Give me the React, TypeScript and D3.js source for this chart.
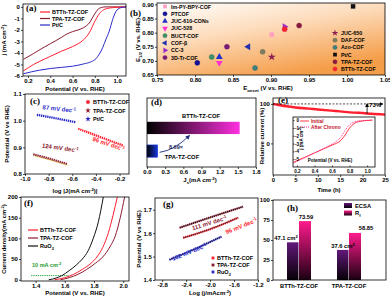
import { useEffect, useRef } from 'react';
import * as d3 from 'd3';

// (a) ORR polarisation curves, [potential V vs RHE, j mA cm-2]
const lsvBTTh = [[0.16, -5.55], [0.25, -5.0], [0.3, -4.75], [0.4, -4.3], [0.5, -3.85], [0.6, -3.45], [0.65, -3.2], [0.7, -2.85], [0.75, -2.25], [0.8, -1.25], [0.84, -0.6], [0.88, -0.25], [0.93, -0.1], [1.0, -0.04], [1.08, 0]];
const lsvTPA = [[0.16, -4.55], [0.25, -4.05], [0.3, -3.75], [0.4, -3.2], [0.5, -2.65], [0.55, -2.35], [0.6, -2.15], [0.65, -2.0], [0.7, -1.8], [0.75, -1.4], [0.8, -0.6], [0.83, -0.2], [0.86, -0.05], [0.9, 0], [1.08, 0]];
const lsvPtC = [[0.16, -5.8], [0.3, -5.5], [0.4, -5.35], [0.5, -5.25], [0.6, -5.15], [0.7, -4.95], [0.77, -4.75], [0.81, -4.5], [0.84, -4.1], [0.87, -3.55], [0.9, -2.8], [0.93, -2.1], [0.96, -1.1], [0.99, -0.4], [1.03, -0.08], [1.08, 0]];
const aXTicks = [0.2, 0.4, 0.6, 0.8, 1.0];
const aYTicks = [0, -1, -2, -3, -4, -5, -6];

// (b) literature comparison: onset vs half-wave potential
const refNames = ['Im-PY-BPY-COF', 'PTCOF', 'JUC-610-CONs', 'JUC-528', 'BUCT-COF', 'COF-β', 'CC-3', '3D-Tr-COF', 'JUC-650', 'DAF-COF', 'Azo-COF', 'Pt/C', 'TPA-TZ-COF', 'BTTh-TZ-COF'];
const refOnset = [0.901, 0.803, 0.832, 0.832, 0.822, 0.870, 0.918, 0.842, 0.901, 0.889, 0.879, 1.008, 0.937, 0.918];
const refHalf = [0.793, 0.693, 0.714, 0.693, 0.714, 0.750, 0.821, 0.750, 0.714, 0.732, 0.675, 0.893, 0.825, 0.812];
const bXTicks = [0.75, 0.80, 0.85, 0.90, 0.95, 1.00, 1.05];
const bYTicks = [0.65, 0.70, 0.75, 0.80, 0.85, 0.90];

// (c) ORR Tafel, [log j, potential]
const tafelPtC = [[-0.9, 1.022], [-0.74, 1.009], [-0.57, 0.994]];
const tafelBTTh = [[-0.55, 0.97], [-0.36, 0.938], [-0.17, 0.907]];
const tafelTPA = [[-0.93, 0.874], [-0.78, 0.856], [-0.64, 0.837]];
const cXTicks = [-1.0, -0.8, -0.6, -0.4, -0.2];
const cYTicks = [0.8, 0.9, 1.0, 1.1];

// (d) kinetic current density
const jsCats = ['BTTh-TZ-COF', 'TPA-TZ-COF'];
const jsValues = [1.53, 0.176];
const dXTicks = [0, 0.3, 0.6, 0.9, 1.2, 1.5, 1.8];

// (e) chronoamperometry + inset LSV
const stabTime = [0, 1, 3, 5, 8, 10, 13, 15, 18, 20, 22, 25];
const stabCurrent = [100, 98, 94, 91, 88, 86, 83, 81, 78, 77, 75, 73];
const chronoInitial = [[0.16, -5.4], [0.3, -4.7], [0.4, -4.2], [0.5, -3.7], [0.6, -3.2], [0.7, -2.6], [0.75, -1.9], [0.8, -1.0], [0.85, -0.45], [0.9, -0.2], [1.0, -0.05], [1.06, 0]];
const chronoAfter = [[0.16, -5.5], [0.3, -4.75], [0.4, -4.2], [0.5, -3.65], [0.6, -3.05], [0.65, -2.7], [0.7, -2.2], [0.75, -1.3], [0.8, -0.6], [0.85, -0.25], [0.9, -0.1], [1.06, 0]];
const eXTicks = [0, 5, 10, 15, 20, 25];
const eYTicks = [0, 100];
const insetXTicks = [0.2, 0.4, 0.6, 0.8, 1.0];
const insetYTicks = [0, -1, -2, -3, -4, -5];

// (f) OER polarisation, [potential, current density]
const oerBTTh = [[1.53, 0], [1.6, 5], [1.66, 13], [1.72, 25], [1.78, 40], [1.82, 55], [1.86, 78], [1.9, 115], [1.93, 155], [1.96, 200]];
const oerTPA = [[1.57, 0], [1.63, 5], [1.69, 13], [1.75, 25], [1.81, 40], [1.86, 55], [1.91, 80], [1.945, 105], [1.98, 150], [2.01, 200]];
const oerRuO2 = [[1.49, 0], [1.54, 4], [1.58, 10], [1.63, 22], [1.68, 36], [1.72, 50], [1.76, 70], [1.795, 100], [1.83, 140], [1.864, 200]];
const fXTicks = [1.4, 1.6, 1.8, 2.0];
const fYTicks = [0, 50, 100, 150, 200];

// (g) OER Tafel
const oerTafelBTTh = [[-2.45, 1.58], [-2.0, 1.617], [-1.53, 1.666]];
const oerTafelTPA = [[-2.51, 1.623], [-2.0, 1.667], [-1.45, 1.713]];
const oerTafelRuO2 = [[-2.68, 1.486], [-2.25, 1.533], [-1.81, 1.585]];
const gXTicks = [-2.8, -2.4, -2.0, -1.6, -1.2];
const gYTicks = [1.4, 1.5, 1.6, 1.7];

// (h) ECSA and roughness factor
const ecsaCats = ['BTTh-TZ-COF', 'TPA-TZ-COF'];
const ecsaValues = [47.1, 37.6];
const rfValues = [73.59, 58.85];
const hYTicks = [0, 25, 50, 75, 100];

const SANS = '"Liberation Sans", Arial, sans-serif';
const SERIF = '"Liberation Serif", "Times New Roman", serif';
const RED = '#ff1f2e';
const MAROON = '#8c1c30';
const BLUE = '#2a2ac8';

const refColors = ['#ff9ec4', '#10109a', '#2030c8', '#ff30d0', '#3d8f6a', '#2030b0', '#9a30c8', '#7a1a7a', '#8b2050', '#7d7d60', '#3f7f80', '#111111', '#8a1a40', '#ff2030'];
const refShapes = ['square', 'circle', 'up', 'down', 'circle', 'left', 'right', 'circle', 'star', 'circle', 'circle', 'square', 'circle', 'circle'];

const minus = (s) => s.replace('−', '-');
const f1 = (d) => minus(d3.format('.1f')(d));
const f2 = (d) => minus(d3.format('.2f')(d));
const f0 = (d) => minus(d3.format('d')(d));

function axis(g, orient, scale, at, ticks, fmt, size = 6) {
    const gen = (orient === 'bottom' ? d3.axisBottom(scale) : d3.axisLeft(scale))
        .tickValues(ticks).tickFormat(fmt).tickSize(2).tickPadding(1.2);
    const a = g.append('g')
        .attr('transform', orient === 'bottom' ? `translate(0,${at})` : `translate(${at},0)`)
        .call(gen);
    a.attr('font-size', null).attr('font-family', null);
    a.select('.domain').remove();
    a.selectAll('line').attr('stroke', '#000').attr('stroke-width', 0.7);
    a.selectAll('text').attr('fill', '#000').style('font', `bold ${size}px ${SANS}`);
    return a;
}

function frame(g, x0, x1, y0, y1) {
    g.append('rect')
        .attr('x', x0).attr('y', y0)
        .attr('width', x1 - x0).attr('height', y1 - y0)
        .attr('fill', 'none').attr('stroke', '#000').attr('stroke-width', 0.8);
}

// text with sub/superscript parts: [[text, 'sup'|'sub'|undefined], ...]
function rich(g, x, y, segs, o: any = {}) {
    const size = o.size ?? 6;
    const t = g.append('text')
        .attr('x', x).attr('y', y)
        .attr('text-anchor', o.anchor ?? 'middle')
        .attr('fill', o.fill ?? '#000')
        .style('font', `${o.weight ?? 'bold'} ${size}px ${o.family ?? SANS}`);
    if (o.rotate) t.attr('transform', `rotate(${o.rotate},${x},${y})`);
    let shift = 0;
    const parts = typeof segs === 'string' ? [[segs]] : segs;
    parts.forEach(([s, k]) => {
        const target = k === 'sup' ? -size * 0.38 : k === 'sub' ? size * 0.28 : 0;
        const ts = t.append('tspan').attr('dy', target - shift).text(s);
        if (k) ts.style('font-size', `${size * 0.72}px`);
        shift = target;
    });
    return t;
}

function panelLabel(g, x, y, s) {
    rich(g, x, y, s, { size: 9, family: SERIF, anchor: 'start' });
}

function marker(g, shape, x, y, color, size = 18) {
    const types = { square: d3.symbolSquare, circle: d3.symbolCircle, up: d3.symbolTriangle, down: d3.symbolTriangle, left: d3.symbolTriangle, right: d3.symbolTriangle, star: d3.symbolStar };
    const rot = { down: 180, left: -90, right: 90 }[shape] ?? 0;
    g.append('path')
        .attr('d', d3.symbol().type(types[shape]).size(size)())
        .attr('transform', `translate(${x},${y}) rotate(${rot})`)
        .attr('fill', color)
        .attr('stroke', shape === 'circle' ? d3.color(color).darker(0.6) : 'none')
        .attr('stroke-width', 0.4);
}

export default function App() {
    const svgRef = useRef(null);

    useEffect(() => {
        const svg = d3.select(svgRef.current);
        svg.selectAll('*').remove();
        const defs = svg.append('defs');

        const grad = (id, stops, x2 = 1, y2 = 0, x1 = 0, y1 = 0) => {
            const lg = defs.append('linearGradient').attr('id', id)
                .attr('x1', x1).attr('y1', y1).attr('x2', x2).attr('y2', y2);
            stops.forEach(([o, c]) => lg.append('stop').attr('offset', o).attr('stop-color', c));
        };
        grad('bgB', [[0, '#ffffff'], [0.45, '#fddcbc'], [1, '#f59e4a']], 0.55, 1);
        grad('barBTTh', [[0, '#000000'], [1, '#ff30e0']]);
        grad('barTPA', [[0, '#000000'], [1, '#1838e0']]);
        grad('barECSA', [[0, '#62187a'], [1, '#050005']], 0, 1);
        grad('barRf', [[0, '#ff1a8c'], [1, '#1a0012']], 0, 1);

        const arrow = (id, color) => defs.append('marker').attr('id', id)
            .attr('viewBox', '0 0 10 10').attr('refX', 8).attr('refY', 5)
            .attr('markerWidth', 5).attr('markerHeight', 5).attr('orient', 'auto')
            .append('path').attr('d', 'M0,0 L10,5 L0,10 z').attr('fill', color);
        arrow('arrK', '#000');
        arrow('arrB', '#1b2a7a');

        // ---------- (a)
        const gA = svg.append('g');
        const ax = d3.scaleLinear().domain([0.155, 1.08]).range([23, 126]);
        const ay = d3.scaleLinear().domain([-6, 0.25]).range([76, 4]);
        const lineA = d3.line().x(d => ax(d[0])).y(d => ay(d[1])).curve(d3.curveMonotoneX);
        [[lsvTPA, MAROON], [lsvBTTh, RED], [lsvPtC, BLUE]].forEach(([d, c]) => {
            gA.append('path').attr('d', lineA(d)).attr('fill', 'none').attr('stroke', c).attr('stroke-width', 1);
        });
        frame(gA, 23, 126, 4, 76);
        axis(gA, 'bottom', ax, 76, aXTicks, f1);
        axis(gA, 'left', ay, 23, aYTicks, f0);
        [['BTTh-TZ-COF', RED], ['TPA-TZ-COF', MAROON], ['Pt/C', BLUE]].forEach(([n, c], i) => {
            const y = 12 + i * 6.5;
            gA.append('line').attr('x1', 40).attr('x2', 50).attr('y1', y).attr('y2', y).attr('stroke', c).attr('stroke-width', 1.2);
            rich(gA, 52, y + 2, n, { anchor: 'start', size: 5.5 });
        });
        rich(gA, 75, 91, 'Potential (V vs. RHE)');
        rich(gA, 6, 40, [['j (mA cm'], ['-2', 'sup'], [')']], { rotate: -90 });
        panelLabel(gA, 26, 11, '(a)');

        // ---------- (b)
        const gB = svg.append('g');
        const bx = d3.scaleLinear().domain([0.75, 1.05]).range([157, 385]);
        const by = d3.scaleLinear().domain([0.65, 0.905]).range([75, 3]);
        gB.append('rect').attr('x', 157).attr('y', 3).attr('width', 228).attr('height', 72).attr('fill', 'url(#bgB)');
        refNames.forEach((n, i) => marker(gB, refShapes[i], bx(refOnset[i]), by(refHalf[i]), refColors[i], 20));
        frame(gB, 157, 385, 3, 75);
        axis(gB, 'bottom', bx, 75, bXTicks, f2);
        axis(gB, 'left', by, 157, bYTicks, f2);
        refNames.forEach((n, i) => {
            const left = i < 8;
            const mx = left ? 165 : 335;
            const my = left ? 6.5 + i * 7.3 : 33 + (i - 8) * 7.2;
            marker(gB, refShapes[i], mx, my, refColors[i], 14);
            rich(gB, mx + 6, my + 2, n, { anchor: 'start', size: 5.3 });
        });
        rich(gB, 268, 90, [['E'], ['onset', 'sub'], [' (V vs. RHE)']]);
        rich(gB, 140, 40, [['E'], ['1/2', 'sub'], [' (V vs. RHE)']], { rotate: -90 });
        panelLabel(gB, 130, 16, '(b)');

        // ---------- (c)
        const gC = svg.append('g');
        const cx = d3.scaleLinear().domain([-1.0, -0.12]).range([25, 129]);
        const cy = d3.scaleLinear().domain([0.8, 1.1]).range([174, 94]);
        const lineC = d3.line().x(d => cx(d[0])).y(d => cy(d[1]));
        gC.append('path').attr('d', lineC(tafelTPA)).attr('fill', 'none').attr('stroke', '#e8d040').attr('stroke-width', 0.8).attr('transform', 'translate(0,1.2)');
        [[tafelTPA, MAROON], [tafelBTTh, RED], [tafelPtC, BLUE]].forEach(([d, c]) => {
            gC.append('path').attr('d', lineC(d)).attr('fill', 'none').attr('stroke', c)
                .attr('stroke-width', 2.2).attr('stroke-dasharray', '1.4,0.7');
        });
        frame(gC, 25, 129, 94, 174);
        axis(gC, 'bottom', cx, 174, cXTicks, f1);
        axis(gC, 'left', cy, 25, cYTicks, f1);
        [['BTTh-TZ-COF', RED, 'circle'], ['TPA-TZ-COF', MAROON, 'star'], ['Pt/C', BLUE, 'star']].forEach(([n, c, s], i) => {
            const y = 102 + i * 8.5;
            marker(gC, s, 88, y, c, 10);
            rich(gC, 93, y + 2, n, { anchor: 'start', size: 5.5 });
        });
        rich(gC, 59, 111, [['87 mV dec'], ['-1', 'sup']], { rotate: 6, fill: BLUE });
        rich(gC, 108, 146, [['96 mV dec'], ['-1', 'sup']], { rotate: 18, fill: RED });
        rich(gC, 60, 150, [['124 mV dec'], ['-1', 'sup']], { rotate: 8, fill: MAROON });
        rich(gC, 75, 193, [['log |J(mA cm'], ['-2', 'sup'], [')|']]);
        rich(gC, 9, 134, 'Potential (V vs RHE)', { rotate: -90 });
        panelLabel(gC, 30, 104, '(c)');

        // ---------- (d)
        const gD = svg.append('g');
        const dx = d3.scaleLinear().domain([0, 1.8]).range([147, 256]);
        const dy = d3.scaleBand().domain(jsCats).range([116, 163]).paddingInner(0.47).paddingOuter(0.25);
        jsCats.forEach((c, i) => {
            gD.append('rect').attr('x', dx(0)).attr('y', dy(c)).attr('width', dx(jsValues[i]) - dx(0)).attr('height', dy.bandwidth())
                .attr('fill', i === 0 ? 'url(#barBTTh)' : 'url(#barTPA)')
                .attr('stroke', i === 0 ? 'none' : '#1838e0').attr('stroke-width', 0.6);
        });
        frame(gD, 147, 256, 98, 167);
        axis(gD, 'bottom', dx, 167, dXTicks, f1);
        rich(gD, 201, dy(jsCats[0]) - 4, jsCats[0], { size: 5.8 });
        rich(gD, 182, dy(jsCats[1]) + dy.bandwidth() + 2, jsCats[1], { size: 5.8 });
        const sx = dx(jsValues[1]) + 2, sy = dy(jsCats[1]) + dy.bandwidth() * 0.6;
        const ex0 = dx(0.7), ey0 = dy(jsCats[0]) + dy.bandwidth() + 1.5;
        gD.append('path').attr('d', `M${sx},${sy} Q${(sx + ex0) / 2},${sy - 2} ${ex0},${ey0}`)
            .attr('fill', 'none').attr('stroke', '#1b2a7a').attr('stroke-width', 0.9).attr('marker-end', 'url(#arrB)');
        rich(gD, 176, 149, `${d3.format('.2f')(jsValues[0] / jsValues[1])}×`, { size: 5.5, fill: '#1b2a5a' });
        rich(gD, 200, 182, [['J'], ['s', 'sub'], ['(mA cm'], ['-2', 'sup'], [')']]);
        panelLabel(gD, 151, 105, '(d)');

        // ---------- (e)
        const gE = svg.append('g');
        const ex = d3.scaleLinear().domain([0, 25]).range([273, 385]);
        const ey = d3.scaleLinear().domain([-80, 115]).range([175, 98]);
        const lineE = d3.line().x((d, i) => ex(stabTime[i])).y(d => ey(d)).curve(d3.curveMonotoneX);
        gE.append('path').attr('d', lineE(stabCurrent)).attr('fill', 'none').attr('stroke', RED).attr('stroke-width', 2.4);
        gE.append('line').attr('x1', ex(0)).attr('x2', ex(24.5)).attr('y1', ey(100)).attr('y2', ey(100))
            .attr('stroke', '#000').attr('stroke-width', 0.7).attr('stroke-dasharray', '2,1.5').attr('marker-end', 'url(#arrK)');
        gE.append('line').attr('x1', ex(21)).attr('x2', ex(21)).attr('y1', ey(stabCurrent[stabCurrent.length - 1] + 2)).attr('y2', ey(100))
            .attr('stroke', '#000').attr('stroke-width', 0.8).attr('marker-end', 'url(#arrK)');
        rich(gE, ex(21) + 2, ey(91), `${stabCurrent[stabCurrent.length - 1]}%`, { anchor: 'start', size: 6 });
        frame(gE, 273, 385, 98, 175);
        axis(gE, 'bottom', ex, 175, eXTicks, f0);
        axis(gE, 'left', ey, 273, eYTicks, f0);
        rich(gE, 329, 192, 'Time (h)');
        rich(gE, 264, 136, 'Relative current (%)', { rotate: -90 });
        panelLabel(gE, 278, 103, '(e)');

        // inset
        const ix = d3.scaleLinear().domain([0.155, 1.09]).range([293, 375]);
        const iy = d3.scaleLinear().domain([-6, 0.4]).range([167, 117]);
        gE.append('rect').attr('x', 293).attr('y', 117).attr('width', 82).attr('height', 50).attr('fill', '#fff');
        const lineI = d3.line().x(d => ix(d[0])).y(d => iy(d[1])).curve(d3.curveMonotoneX);
        gE.append('path').attr('d', lineI(chronoInitial)).attr('fill', 'none').attr('stroke', RED).attr('stroke-width', 0.9);
        gE.append('path').attr('d', lineI(chronoAfter)).attr('fill', 'none').attr('stroke', '#ff2a90').attr('stroke-width', 1).attr('stroke-dasharray', '1,1');
        frame(gE, 293, 375, 117, 167);
        const ixa = axis(gE, 'bottom', ix, 167, insetXTicks, f1, 4.6);
        ixa.selectAll('line').attr('y2', -1.5);
        const iya = axis(gE, 'left', iy, 293, insetYTicks, f0, 4.6);
        iya.selectAll('line').attr('x2', 1.5);
        iya.selectAll('text').attr('x', 6);
        gE.append('line').attr('x1', 300).attr('x2', 309).attr('y1', 121).attr('y2', 121).attr('stroke', RED).attr('stroke-width', 0.9);
        gE.append('line').attr('x1', 300).attr('x2', 309).attr('y1', 127).attr('y2', 127).attr('stroke', '#ff2a90').attr('stroke-width', 1).attr('stroke-dasharray', '1,1');
        rich(gE, 311, 122.8, 'Initial', { anchor: 'start', size: 4.8, fill: '#c0102a' });
        rich(gE, 311, 128.8, 'After Chrono', { anchor: 'start', size: 4.8, fill: '#c0102a' });
        rich(gE, 330, 162, 'Potential (V vs. RHE)', { size: 4.5 });
        rich(gE, 303, 138, [['j (mA cm'], ['-2', 'sup'], [')']], { rotate: -90, size: 4.5 });

        // ---------- (f)
        const gF = svg.append('g');
        const fx = d3.scaleLinear().domain([1.3, 2.04]).range([21, 129]);
        const fy = d3.scaleLinear().domain([-3, 200]).range([281, 197]);
        const lineF = d3.line().x(d => fx(d[0])).y(d => fy(d[1])).curve(d3.curveMonotoneX);
        gF.append('line').attr('x1', fx(1.37)).attr('x2', fx(1.63)).attr('y1', fy(10)).attr('y2', fy(10))
            .attr('stroke', '#1a9a2a').attr('stroke-width', 1).attr('stroke-dasharray', '1.2,1');
        [[oerRuO2, '#111'], [oerTPA, MAROON], [oerBTTh, RED]].forEach(([d, c]) => {
            gF.append('path').attr('d', lineF(d)).attr('fill', 'none').attr('stroke', c).attr('stroke-width', 1);
        });
        frame(gF, 21, 129, 197, 281);
        axis(gF, 'bottom', fx, 281, fXTicks, f1);
        axis(gF, 'left', fy, 21, fYTicks, f0);
        [['BTTh-TZ-COF', RED], ['TPA-TZ-COF', MAROON], [[['RuO'], ['2', 'sub']], '#111']].forEach(([n, c], i) => {
            const y = 230 + i * 8;
            gF.append('line').attr('x1', 28).attr('x2', 38).attr('y1', y).attr('y2', y).attr('stroke', c).attr('stroke-width', 1.2);
            rich(gF, 40, y + 2, n, { anchor: 'start', size: 5.5 });
        });
        rich(gF, 32, 267, [['10 mA cm'], ['-2', 'sup']], { anchor: 'start', size: 5.5, fill: '#1a9a2a' });
        rich(gF, 75, 295, 'Potential (V vs. RHE)');
        rich(gF, 6, 239, [['Current density(mA cm'], ['-2', 'sup'], [')']], { rotate: -90, size: 5.8 });
        panelLabel(gF, 24, 206, '(f)');

        // ---------- (g)
        const gG = svg.append('g');
        const gx = d3.scaleLinear().domain([-2.92, -1.2]).range([155, 258]);
        const gy = d3.scaleLinear().domain([1.4, 1.75]).range([280, 198]);
        const lineG = d3.line().x(d => gx(d[0])).y(d => gy(d[1])).curve(d3.curveMonotoneX);
        [[oerTafelTPA, MAROON], [oerTafelBTTh, RED], [oerTafelRuO2, BLUE]].forEach(([d, c]) => {
            gG.append('path').attr('d', lineG(d)).attr('fill', 'none').attr('stroke', c)
                .attr('stroke-width', 2.2).attr('stroke-dasharray', '1.4,0.6');
            gG.append('path').attr('d', lineG(d)).attr('fill', 'none').attr('stroke', '#000').attr('stroke-width', 0.6);
        });
        frame(gG, 155, 258, 198, 280);
        axis(gG, 'bottom', gx, 280, gXTicks, f1);
        axis(gG, 'left', gy, 155, gYTicks, f1);
        [['BTTh-TZ-COF', RED], ['TPA-TZ-COF', MAROON], [[['RuO'], ['2', 'sub']], BLUE]].forEach(([n, c], i) => {
            const y = 258 + i * 7;
            marker(gG, 'square', 213, y, c, 8);
            rich(gG, 217, y + 2, n, { anchor: 'start', size: 5.5 });
        });
        rich(gG, 210, 225, [['111 mV dec'], ['-1', 'sup']], { rotate: -17, fill: MAROON });
        rich(gG, 242, 228, [['96 mV dec'], ['-1', 'sup']], { rotate: -22, fill: RED });
        rich(gG, 190, 254, [['102 mV dec'], ['-1', 'sup']], { rotate: -22, fill: BLUE });
        rich(gG, 210, 295, [['Log (j/mAcm'], ['-2', 'sup'], [')']]);
        rich(gG, 141, 239, 'Potential (V vs RHE)', { rotate: -90 });
        panelLabel(gG, 163, 207, '(g)');

        // ---------- (h)
        const gH = svg.append('g');
        const hx = d3.scaleBand().domain(ecsaCats).range([276, 372]).paddingInner(0.08);
        const hs = d3.scaleBand().domain(['ecsa', 'rf']).range([0, 24]);
        const hy = d3.scaleLinear().domain([0, 100]).range([280, 200]);
        ecsaCats.forEach((c, i) => {
            const x0 = hx(c) + hx.bandwidth() / 2 - 12;
            gH.append('rect').attr('x', x0 + hs('ecsa')).attr('y', hy(ecsaValues[i])).attr('width', hs.bandwidth() - 0.5)
                .attr('height', hy(0) - hy(ecsaValues[i])).attr('fill', 'url(#barECSA)');
            gH.append('rect').attr('x', x0 + hs('rf')).attr('y', hy(rfValues[i])).attr('width', hs.bandwidth())
                .attr('height', hy(0) - hy(rfValues[i])).attr('fill', 'url(#barRf)');
            rich(gH, x0 + hs('ecsa') + hs.bandwidth() / 2 - (i === 0 ? 7 : 0), hy(ecsaValues[i]) - 2, [[`${ecsaValues[i]} cm`], ['2', 'sup']], { size: 5.8 });
            rich(gH, x0 + hs('rf') + hs.bandwidth() / 2 + (i === 0 ? 1 : 11), hy(rfValues[i]) - 2.5, `${rfValues[i]}`, { size: 5.8 });
            rich(gH, hx(c) + hx.bandwidth() / 2, 288, c, { size: 5.8 });
        });
        frame(gH, 273, 386, 200, 280);
        axis(gH, 'left', hy, 273, hYTicks, f0);
        [['ECSA', 'url(#barECSA)'], [[['R'], ['f', 'sub']], 'url(#barRf)']].forEach(([n, f], i) => {
            const y = 203 + i * 7.5;
            gH.append('rect').attr('x', 344).attr('y', y).attr('width', 8).attr('height', 5).attr('fill', f);
            rich(gH, 355, y + 4.5, n, { anchor: 'start', size: 5.8 });
        });
        panelLabel(gH, 287, 211, '(h)');
    }, []);

    return (
        <svg
            ref={svgRef}
            width={390}
            height={300}
            style={{ position: 'absolute', left: 0, top: 0, background: '#fff' }}
        />
    );
}
